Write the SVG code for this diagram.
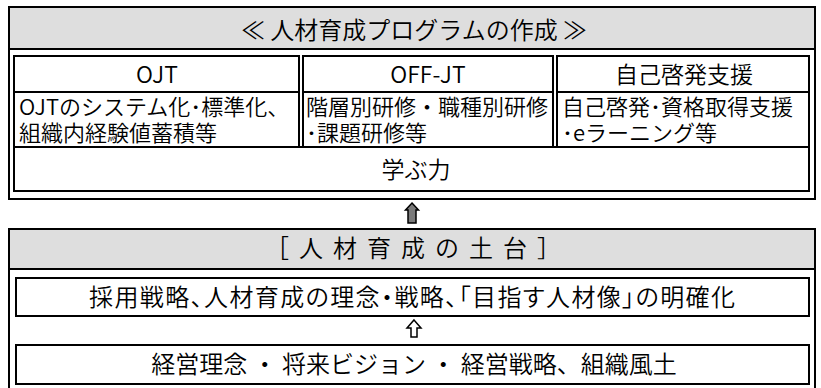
<svg xmlns="http://www.w3.org/2000/svg" width="821" height="388" viewBox="0 0 821 388">
<defs>
<style>
.box{fill:#fff;stroke:#000;stroke-width:2}
.band{fill:#dedede}
.ln{stroke:#000;stroke-width:2}
text{font-family:"Noto Sans CJK JP","Noto Sans",sans-serif;fill:#000;font-weight:350}
.t22{font-size:22px}
.t23{font-size:23px}
.t24{font-size:24px}
.c{text-anchor:middle}
.p{font-feature-settings:"palt"}
</style>
</defs>
<rect width="821" height="388" fill="#fff"/>
<g id="program">
<rect class="box" x="9" y="7" width="806" height="192"/>
<rect class="band" x="10" y="8" width="804" height="41"/>
<line class="ln" x1="9" y1="49" x2="815" y2="49"/>
<text class="t24 c" x="414" y="38.5">≪ 人材育成プログラムの作成 ≫</text>
</g>
<g id="ojt">
<rect class="box" x="14" y="56" width="285" height="91"/>
<line class="ln" x1="14" y1="92" x2="299" y2="92"/>
<text class="t23 c" x="157" y="83">OJT</text>
<text class="t22" x="19" y="115">OJTのシステム化･標準化、</text>
<text class="t22" x="19" y="141">組織内経験値蓄積等</text>
</g>
<g id="offjt">
<rect class="box" x="303" y="56" width="250" height="91"/>
<line class="ln" x1="303" y1="92" x2="553" y2="92"/>
<text class="t23 c" x="428" y="83">OFF-JT</text>
<text class="t22" x="306" y="115">階層別研修・職種別研修</text>
<text class="t22" x="306" y="141">･課題研修等</text>
</g>
<g id="jikokeihatsu">
<rect class="box" x="557" y="56" width="252" height="91"/>
<line class="ln" x1="557" y1="92" x2="809" y2="92"/>
<text class="t23 c" x="684" y="83">自己啓発支援</text>
<text class="t22" x="562" y="115">自己啓発･資格取得支援</text>
<text class="t22" x="562" y="141">･eラーニング等</text>
</g>
<g id="manabu">
<rect class="box" x="14" y="147" width="795" height="44"/>
<text class="t23 c" x="416" y="178">学ぶ力</text>
</g>
<g id="dodai">
<rect class="box" x="9" y="229" width="806" height="170"/>
<rect class="band" x="10" y="230" width="804" height="39"/>
<line class="ln" x1="9" y1="269" x2="815" y2="269"/>
<text class="t24 c" x="418" y="256.5" letter-spacing="10">［人材育成の土台］</text>
</g>
<g id="saiyo">
<rect class="box" x="16" y="278" width="793" height="38"/>
<text class="t24 c p" x="412" y="306" textLength="646">採用戦略、人材育成の理念・戦略、「目指す人材像」の明確化</text>
</g>
<g id="keiei">
<rect class="box" x="16" y="345" width="793" height="39"/>
<text class="t24 c" x="414" y="373">経営理念 ・ 将来ビジョン ・ 経営戦略、組織風土</text>
</g>
<g id="connectors">
<polygon points="412,203 418.5,210 416,210 416,223 408,223 408,210 405.5,210" fill="#7a7a7a" stroke="#000" stroke-width="1.5"/>
<polygon points="414,320 421,328 417,328 417,337 411,337 411,328 407,328" fill="#fff" stroke="#000" stroke-width="1.5"/>
</g>
</svg>
